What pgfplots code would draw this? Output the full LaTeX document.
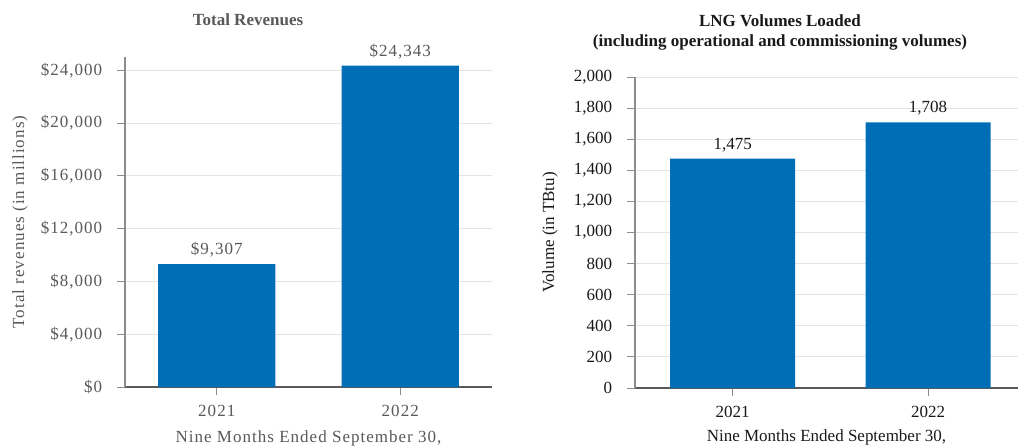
\documentclass[border=0pt]{standalone}
\usepackage{fontspec}
\setmainfont{Liberation Serif}
\newfontfamily\lfont[LetterSpace=6]{Liberation Serif}
\usepackage{pgfplots}
\pgfplotsset{compat=1.18}
\definecolor{barblue}{RGB}{0,110,182}
\definecolor{lgray}{RGB}{89,89,89}
\definecolor{gridc}{RGB}{228,228,228}
\definecolor{axc}{RGB}{140,140,140}
\definecolor{baxc}{RGB}{90,90,90}
\pgfplotsset{
  mybar/.style={
    scale only axis,
    ybar, bar width=0.64,
    axis x line*=bottom, axis y line*=left,
    x axis line style={baxc, line width=1.6pt, -},
    y axis line style={axc, line width=1.2pt, -},
    xtick={0,1}, xticklabels={2021,2022},
    xtick pos=bottom, ytick pos=left,
    tick align=outside, major tick length=8pt,
    xtick style={axc, line width=1pt},
    ytick style={axc, line width=1pt},
    ymajorgrids, grid style={gridc, line width=1pt},
    ymin=0, xmin=-0.5,
    scaled y ticks=false,
    /pgf/number format/.cd, fixed, precision=0, 1000 sep={,}, assume math mode=true,
    /pgfplots/.cd,
    nodes near coords,
    every node near coord/.append style={yshift=1pt},
    xticklabel style={yshift=-4pt},
    enlarge x limits=false,
  }
}
\begin{document}
\fontsize{17pt}{20pt}\selectfont
\begin{tikzpicture}
\begin{axis}[mybar,
  at={(125pt,-387pt)}, anchor=south west,
  width=367pt, height=330pt,
  xmax=1.5, ymax=25000,
  ytick={0,4000,8000,12000,16000,20000,24000},
  yticklabel={\$\pgfmathprintnumber{\tick}},
  nodes near coords={\$\pgfmathprintnumber{\pgfplotspointmeta}},
  tick label style={font=\lfont, text=lgray},
  yticklabel style={xshift=-9pt},
  every node near coord/.append style={font=\lfont, text=lgray},
  label style={font=\lfont, text=lgray},
  ylabel={Total revenues (in millions)},
  ylabel style={at={(axis description cs:-0.286,0.5)}, anchor=center},
  xlabel={Nine Months Ended September 30,},
  xlabel style={at={(axis description cs:0.5,-0.155)}, anchor=center},
]
\addplot[fill=barblue, draw=none] coordinates {(0,9307) (1,24343)};
\end{axis}
\begin{axis}[mybar,
  at={(635pt,-388pt)}, anchor=south west,
  width=383pt, height=311pt,
  xmax=1.46, ymax=2000,
  ytick={0,200,...,2000},
  tick label style={text=black!90},
  yticklabel style={xshift=-9pt},
  label style={text=black!90},
  every node near coord/.append style={text=black!90},
  ylabel={Volume (in TBtu)},
  ylabel style={at={(axis description cs:-0.222,0.5)}, anchor=center},
  xlabel={Nine Months Ended September 30,},
  xlabel style={at={(axis description cs:0.5,-0.16)}, anchor=center},
]
\addplot[fill=barblue, draw=none] coordinates {(0,1475) (1,1708)};
\end{axis}
\node[font=\bfseries, text=lgray] at (248pt,-20pt) {Total Revenues};
\node[font=\bfseries, text=black!90, align=center] at (780pt,-32pt) {LNG Volumes Loaded\\(including operational and commissioning volumes)};
\pgfresetboundingbox
\path (0,0) rectangle (1018pt,-447pt);
\end{tikzpicture}
\end{document}
